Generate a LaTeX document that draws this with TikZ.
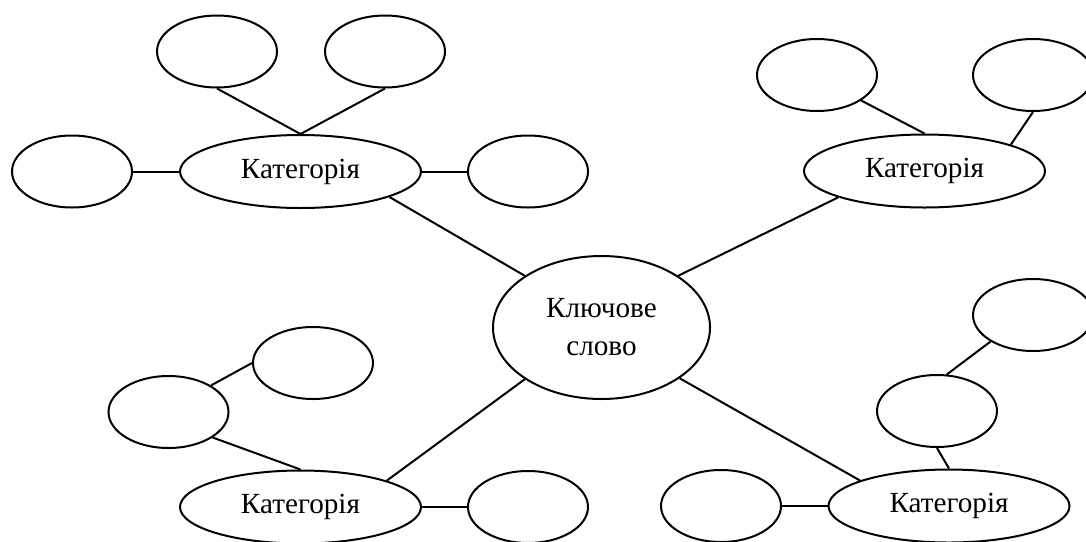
\documentclass[tikz,border=0pt]{standalone}
\usepackage{fontspec}
\setmainfont{Liberation Serif}
\usetikzlibrary{shapes.geometric}

\begin{document}
\begin{tikzpicture}[x=0.5pt, y=-0.5pt, line width=1pt,
  leaf/.style={draw, ellipse, inner sep=0pt, minimum width=60pt, minimum height=36pt},
  cat/.style={draw, ellipse, inner sep=0pt, minimum width=120.5pt, minimum height=36.5pt,
    font=\fontsize{14.6}{17}\selectfont},
  key/.style={draw, ellipse, inner sep=0pt, minimum width=108.5pt, minimum height=71.5pt,
    align=center, font=\fontsize{14.6}{19}\selectfont}]
  \useasboundingbox (0,0) rectangle (1086,541);
  % Central keyword
  \node[key] (kw) at (601.5,327.5) {Ключове\\слово};
  % Categories
  \node[cat] (catTL) at (300.5,171.5) {Категорія};
  \node[cat] (catTR) at (924.5,171) {Категорія};
  \node[cat] (catBL) at (300.5,507) {Категорія};
  \node[cat] (catBR) at (949,506) {Категорія};
  % Empty leaves, top left
  \node[leaf] (tl1) at (217,51.5) {};
  \node[leaf] (tl2) at (385,51.5) {};
  \node[leaf] (tl3) at (72,171.5) {};
  \node[leaf] (tl4) at (528,171.5) {};
  % Empty leaves, top right
  \node[leaf] (tr1) at (817,75) {};
  \node[leaf] (tr2) at (1033,75) {};
  % Empty leaves, bottom left
  \node[leaf] (bl1) at (168.5,412) {};
  \node[leaf] (bl2) at (313,363) {};
  \node[leaf] (bl3) at (528,507) {};
  % Empty leaves, bottom right
  \node[leaf] (br1) at (721,506) {};
  \node[leaf] (br2) at (937,411) {};
  \node[leaf] (br3) at (1033,315) {};
  % Keyword to categories
  \draw (catTL.-16) -- (kw.146);
  \draw (catTR.197) -- (kw.34);
  \draw (catBL.17) -- (kw.214);
  \draw (catBR.164) -- (kw.-33);
  % Top left branch
  \draw (tl1.south) -- (catTL.north);
  \draw (tl2.south) -- (catTL.north);
  \draw (tl3.east) -- (catTL.west);
  \draw (catTL.east) -- (tl4.west);
  % Top right branch
  \draw (tr1.-30) -- (catTR.north);
  \draw (tr2.south) -- (catTR.17);
  % Bottom left branch
  \draw (bl1.32) -- (bl2.west);
  \draw (bl1.-30) -- (catBL.north);
  \draw (catBL.east) -- (bl3.west);
  % Bottom right branch
  \draw (br1.east) -- (catBR.west);
  \draw (br3.212) -- (br2.75);
  \draw (br2.south) -- (catBR.north);
\end{tikzpicture}
\end{document}
